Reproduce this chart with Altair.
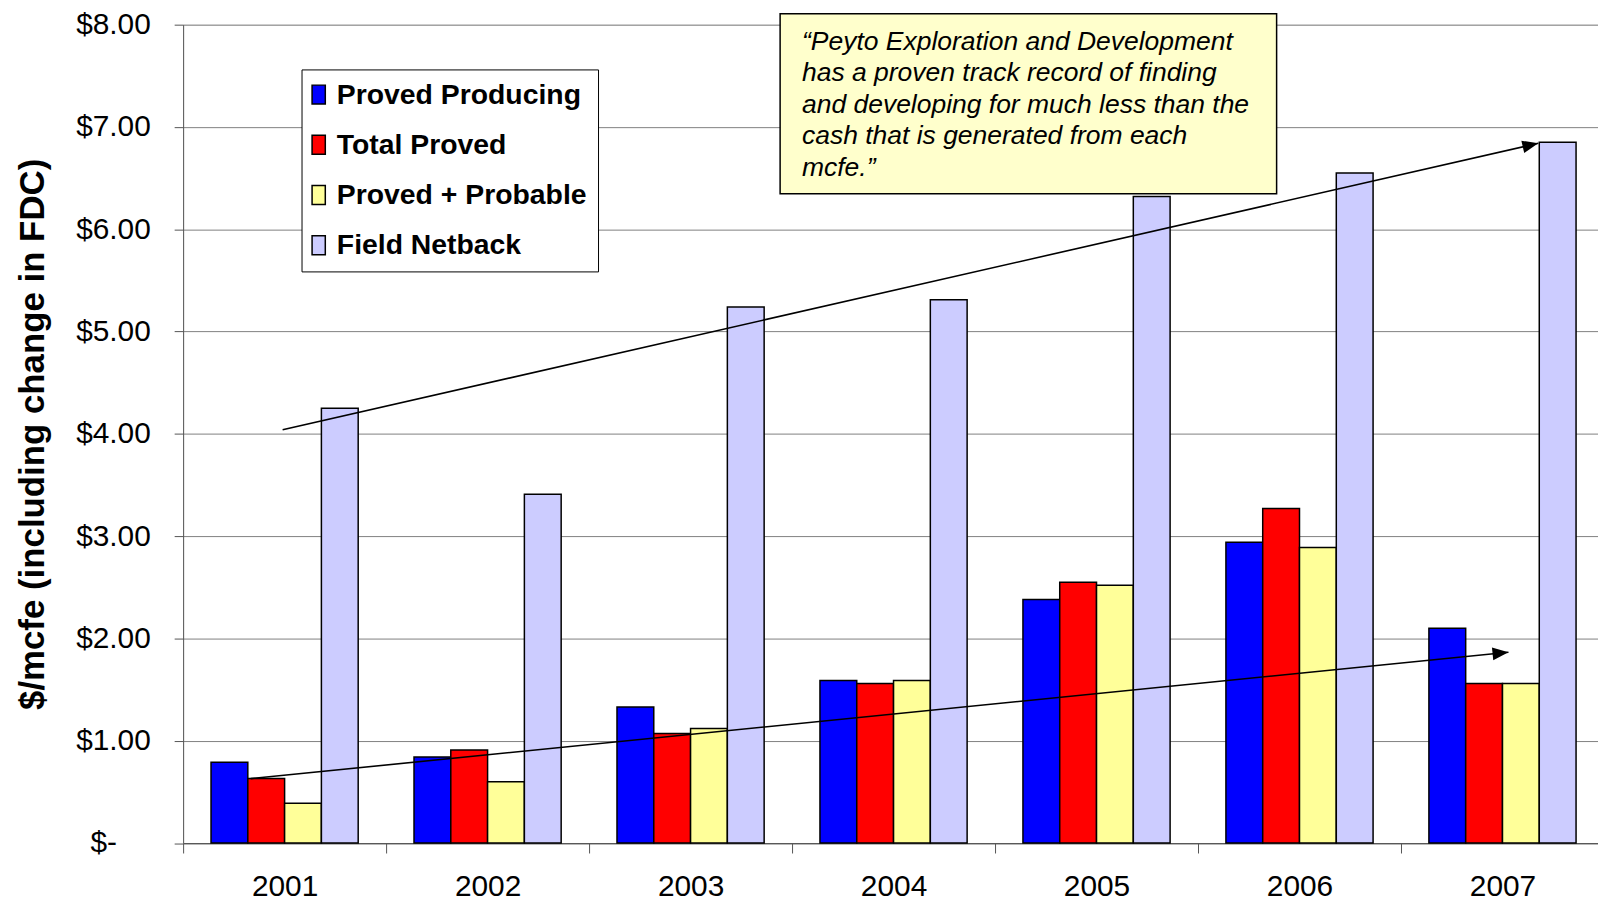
import altair as alt
import pandas as pd

years = ["2001", "2002", "2003", "2004", "2005", "2006", "2007"]
series = ["Proved Producing", "Total Proved", "Proved + Probable", "Field Netback"]
proved_producing = [0.79, 0.84, 1.33, 1.59, 2.38, 2.94, 2.10]
total_proved = [0.63, 0.91, 1.07, 1.56, 2.55, 3.27, 1.56]
proved_probable = [0.39, 0.60, 1.12, 1.59, 2.52, 2.89, 1.56]
field_netback = [4.25, 3.41, 5.24, 5.31, 6.32, 6.55, 6.85]
colors = ["#0000FF", "#FF0000", "#FFFF99", "#CCCCFF"]
y_ticks = [0, 1, 2, 3, 4, 5, 6, 7, 8]

quote_lines = [
    "\u201cPeyto Exploration and Development",
    "has a proven track record of finding",
    "and developing for much less than the",
    "cash that is generated from each",
    "mcfe.\u201d",
]
# trend arrows (start value, end value in $/mcfe)
upper_arrow = [4.04, 6.84]
lower_arrow = [0.63, 1.865]

rows = []
for name, vals in zip(series, [proved_producing, total_proved, proved_probable, field_netback]):
    for yr, v in zip(years, vals):
        rows.append({"year": yr, "series": name, "value": v})
df = pd.DataFrame(rows)

FONT = "Liberation Sans"
W, H = 1428, 822.5

bars = alt.Chart(df).mark_bar(stroke="black", strokeWidth=1.5).encode(
    x=alt.X("year:N", sort=years,
            scale=alt.Scale(paddingInner=0, paddingOuter=0),
            axis=alt.Axis(title=None, labelFontSize=30, labelFont=FONT, labelColor="black",
                          labelAngle=0, tickBand="extent", tickSize=10, tickColor="#555555",
                          domainColor="#555555", labelPadding=19, grid=False)),
    xOffset=alt.XOffset("series:N", sort=series,
                        scale=alt.Scale(paddingInner=0, paddingOuter=0.7586)),
    y=alt.Y("value:Q",
            scale=alt.Scale(domain=[0, 8], nice=False),
            axis=alt.Axis(values=y_ticks, title="$/mcfe (including change in FDC)",
                          titleFontSize=35, titleFont=FONT, titleFontWeight="bold", titleColor="black",
                          titleAngle=270, titleX=-151, titleY=H / 2, titleAlign="center",
                          titleBaseline="middle",
                          labelExpr="datum.value == 0 ? '$-' : '$' + format(datum.value, '.2f')",
                          labelFontSize=30, labelFont=FONT, labelColor="black",
                          labelPadding=alt.condition("datum.value == 0", alt.value(58), alt.value(24)),
                          tickSize=9, tickColor="#555555", domainColor="#555555",
                          grid=True, gridColor="#808080", gridWidth=1)),
    color=alt.Color("series:N", sort=series,
                    scale=alt.Scale(domain=series, range=colors),
                    legend=alt.Legend(title=None, orient="none", legendX=119, legendY=45,
                                      fillColor="white", strokeColor="black", padding=11,
                                      labelFont=FONT, labelFontSize=28.5, labelFontWeight="bold",
                                      labelColor="black", labelOffset=4, labelLimit=500,
                                      rowPadding=21.5, symbolOffset=-8,
                                      symbolType="M-0.7,-1H0.7V1H-0.7Z", symbolSize=360,
                                      symbolStrokeColor="black", symbolStrokeWidth=1.5,
                                      symbolOpacity=1)),
)

one = pd.DataFrame({"k": [0]})


def arrow(x_start, x_end, vals, angle):
    line = alt.Chart(one).mark_rule(color="black", strokeWidth=1.6).encode(
        x=alt.value(x_start), x2=alt.value(x_end),
        y=alt.datum(vals[0]), y2=alt.datum(vals[1]))
    head = alt.Chart(one).mark_point(shape="M0,0L-2,-0.8L-2,0.8Z", size=256, filled=True,
                                     color="black", opacity=1, angle=angle).encode(
        x=alt.value(x_end), y=alt.datum(vals[1]))
    return line + head


up = arrow(100, 1362, upper_arrow, 347.1)
low = arrow(68, 1332, lower_arrow, 354.2)

box = alt.Chart(one).mark_rect(fill="#FFFFCC", stroke="black", strokeWidth=1.5).encode(
    x=alt.value(600), x2=alt.value(1099), y=alt.value(-11), y2=alt.value(170))

quote = alt.Chart(one).mark_text(align="left", baseline="middle", fontSize=26.6, font=FONT,
                                 fontStyle="italic", lineHeight=31.75, color="black",
                                 text=quote_lines).encode(
    x=alt.value(622), y=alt.value(17))

chart = alt.layer(bars, up, low, box, quote).properties(
    width=W, height=H,
    autosize=alt.AutoSizeParams(type="none"),
    padding={"left": 176, "top": 14.5, "right": -6, "bottom": 56},
    background="white",
).configure_view(strokeWidth=0).configure(font=FONT)

chart.save("out.html", embed_options={"renderer": "svg", "actions": False})
